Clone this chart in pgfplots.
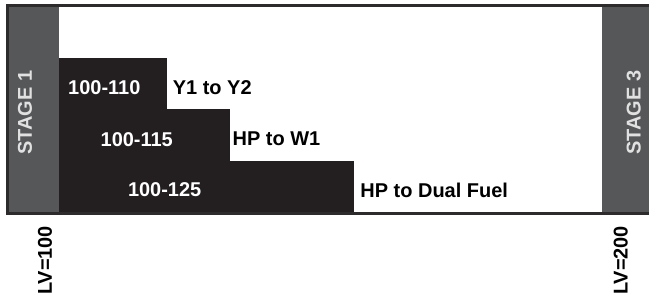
\documentclass[border=0pt]{standalone}
\usepackage{pgfplots}
\pgfplotsset{compat=1.18}
\usepackage{fontspec}
\setmainfont{Liberation Sans}
\definecolor{barblack}{RGB}{35,31,32}
\definecolor{stagegray}{RGB}{85,87,89}
\definecolor{frame}{RGB}{45,43,44}
\definecolor{stagetext}{RGB}{225,225,225}
\tikzset{lab/.style={font=\fontsize{20bp}{22bp}\selectfont\bfseries}}
\begin{document}
\begin{tikzpicture}
\begin{axis}[
  width=650bp, height=299bp, scale only axis,
  xmin=0, xmax=650, ymin=0, ymax=299, y dir=reverse,
  hide axis, clip=false,
]
\path (axis cs:0,0) rectangle (axis cs:650,299);
% stages
\addplot[fill=stagegray, draw=none] coordinates {(8,6) (59,6) (59,213.5) (8,213.5)} --cycle;
\addplot[fill=stagegray, draw=none] coordinates {(603,6) (650,6) (650,213.5) (603,213.5)} --cycle;
% staircase bars (100-110, 100-115, 100-125)
\addplot[fill=barblack, draw=none] coordinates {(59,58) (167,58) (167,110) (59,110)} --cycle;
\addplot[fill=barblack, draw=none] coordinates {(59,109.5) (230,109.5) (230,162) (59,162)} --cycle;
\addplot[fill=barblack, draw=none] coordinates {(59,161.5) (355,161.5) (355,213.5) (59,213.5)} --cycle;
% frame
\addplot[draw=frame, line width=2.6bp, mark=none] coordinates {(650,5.5) (7.5,5.5) (7.5,214) (650,214)};
% labels
\node[lab, text=white, anchor=center] at (axis cs:104.5,88) {100-110};
\node[lab, text=black, anchor=west, inner sep=0pt] at (axis cs:173,88) {Y1 to Y2};
\node[lab, text=white, anchor=center] at (axis cs:137,139.5) {100-115};
\node[lab, text=black, anchor=west, inner sep=0pt] at (axis cs:233,139.5) {HP to W1};
\node[lab, text=white, anchor=center] at (axis cs:165,190.5) {100-125};
\node[lab, text=black, anchor=west, inner sep=0pt] at (axis cs:361,190.5) {HP to Dual Fuel};
\node[lab, text=stagetext, rotate=90, anchor=center] at (axis cs:25,113) {STAGE 1};
\node[lab, text=stagetext, rotate=90, anchor=center] at (axis cs:635,113) {STAGE 3};
\node[lab, text=black, rotate=90, anchor=center] at (axis cs:45,261) {LV=100};
\node[lab, text=black, rotate=90, anchor=center] at (axis cs:622,261) {LV=200};
\end{axis}
\end{tikzpicture}
\end{document}
